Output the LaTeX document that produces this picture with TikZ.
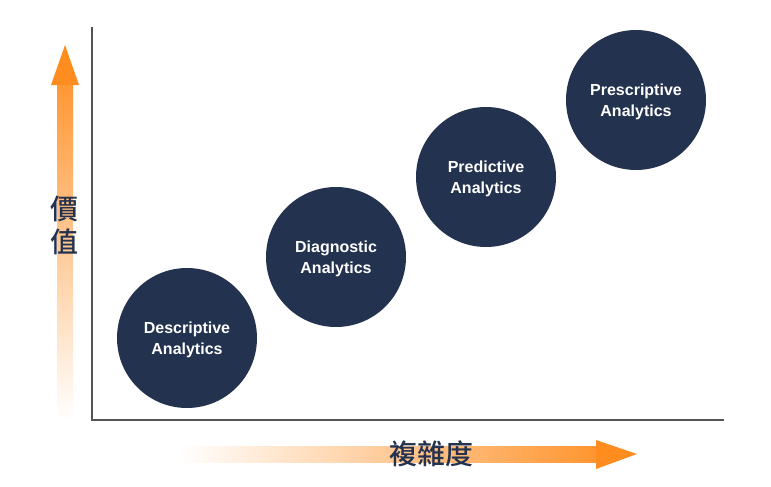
\documentclass[tikz,border=0pt]{standalone}
\usepackage{fontspec}
\setmainfont{Liberation Sans}
\newfontfamily\cjk{Noto Sans CJK TC Medium}
\definecolor{navy}{HTML}{23324F}
\definecolor{axisgray}{HTML}{555555}
\definecolor{arrorange}{HTML}{FF8C1E}
\tikzset{
  stage/.style={circle, fill=navy, minimum size=140pt, inner sep=0pt,
    text=white, align=center, font=\fontsize{16}{21}\selectfont\bfseries,
    text depth=-3pt},
  axisline/.style={draw=axisgray, line width=2pt},
  axlabel/.style={text=navy, font=\fontsize{28}{33}\selectfont\cjk, inner sep=0pt}
}
\begin{document}
\begin{tikzpicture}[x=1pt,y=-1pt]
\useasboundingbox (0,0) rectangle (771,487);
% axes
\coordinate (top) at (92,27);
\coordinate (origin) at (92,420);
\coordinate (right) at (724,420);
\draw[axisline] (top) -- (origin) -- (right);
% vertical arrow
\shade[top color=arrorange!90, bottom color=white] (57,85) rectangle (73,420);
\fill[arrorange] (51,85) -- (65,45) -- (79,85) -- cycle;
% horizontal arrow
\shade[left color=white, right color=arrorange!92] (180,446) rectangle (597,462);
\fill[arrorange] (596,440) -- (637,454) -- (596,469) -- cycle;
% labels
\node[axlabel, align=center] (value) at (64,225) {價\\值};
\node[axlabel] (complex) at (431,454) {複雜度};
% stages
\node[stage] (desc) at (187,338) {Descriptive\\Analytics};
\node[stage] (diag) at (336,257) {Diagnostic\\Analytics};
\node[stage] (pred) at (486,177) {Predictive\\Analytics};
\node[stage] (pres) at (636,100) {Prescriptive\\Analytics};
\end{tikzpicture}
\end{document}
